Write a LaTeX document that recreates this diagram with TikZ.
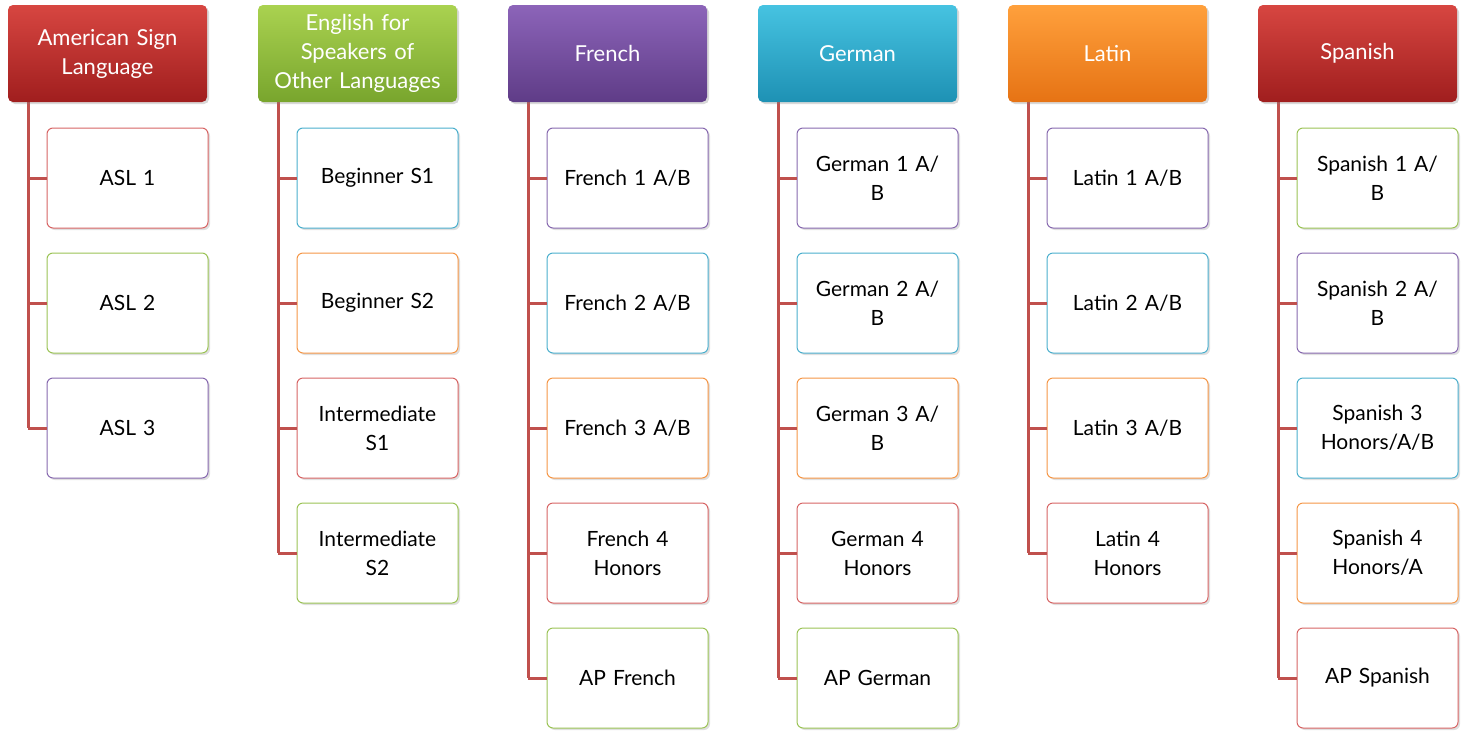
\documentclass[tikz,border=0pt]{standalone}
\usepackage{fontspec}
\setmainfont{Lato}
\usetikzlibrary{shadows}
\newcommand\mkhead[3]{%
 \node[hdr,top color=h#1t,bottom color=h#1b] (h#1) at (#2+99.5,53.5) {#3};
 \coordinate (top#1) at (#2+20,102);}
\newcommand\mkkid[5]{%
 \node[kid=#4] (k#1-#2) at (#3+119.5,53+125*#2) {#5};
 \coordinate (j#1-#2) at (#3+20,53+125*#2);
 \draw[con] (j#1-#2) -- (k#1-#2.west);}
\begin{document}
\begin{tikzpicture}[x=1pt,y=-1pt,
 hdr/.style={rounded corners=5pt,minimum width=199pt,minimum height=97pt,text width=190pt,align=center,text=white,font=\fontsize{22}{29}\selectfont,inner sep=2pt,drop shadow={opacity=0.3,shadow xshift=2pt,shadow yshift=-2pt}},
 kid/.style={draw=#1,line width=1pt,fill=white,rounded corners=6pt,minimum width=161pt,minimum height=100pt,text width=150pt,align=center,font=\fontsize{21}{29}\selectfont,drop shadow={opacity=0.25,shadow xshift=2pt,shadow yshift=-2pt}},
 con/.style={draw=lnk,line width=3pt}]
\definecolor{lnk}{RGB}{192,80,77}
\definecolor{cR}{RGB}{215,100,100}\definecolor{cG}{RGB}{155,195,85}
\definecolor{cP}{RGB}{135,105,175}\definecolor{cB}{RGB}{75,175,205}
\definecolor{cO}{RGB}{245,150,70}
\definecolor{h1t}{RGB}{215,70,65}\definecolor{h1b}{RGB}{160,30,30}
\definecolor{h2t}{RGB}{170,210,80}\definecolor{h2b}{RGB}{120,165,45}
\definecolor{h3t}{RGB}{140,100,185}\definecolor{h3b}{RGB}{95,60,135}
\definecolor{h4t}{RGB}{70,195,225}\definecolor{h4b}{RGB}{30,145,180}
\definecolor{h5t}{RGB}{255,160,60}\definecolor{h5b}{RGB}{230,115,20}
\definecolor{h6t}{RGB}{215,70,65}\definecolor{h6b}{RGB}{160,30,30}
\useasboundingbox (0,0) rectangle (1463,739);
\draw[con] (8+20,102) -- (8+20,53+375);
\draw[con] (258+20,102) -- (258+20,53+500);
\draw[con] (508+20,102) -- (508+20,53+625);
\draw[con] (758+20,102) -- (758+20,53+625);
\draw[con] (1008+20,102) -- (1008+20,53+500);
\draw[con] (1258+20,102) -- (1258+20,53+625);
\mkhead{1}{8}{American Sign\\Language}
\mkkid{1}{1}{8}{cR}{ASL 1}
\mkkid{1}{2}{8}{cG}{ASL 2}
\mkkid{1}{3}{8}{cP}{ASL 3}
\mkhead{2}{258}{English for\\Speakers of\\Other Languages}
\mkkid{2}{1}{258}{cB}{Beginner S1}
\mkkid{2}{2}{258}{cO}{Beginner S2}
\mkkid{2}{3}{258}{cR}{Intermediate\\S1}
\mkkid{2}{4}{258}{cG}{Intermediate\\S2}
\mkhead{3}{508}{French}
\mkkid{3}{1}{508}{cP}{French 1 A/B}
\mkkid{3}{2}{508}{cB}{French 2 A/B}
\mkkid{3}{3}{508}{cO}{French 3 A/B}
\mkkid{3}{4}{508}{cR}{French 4\\Honors}
\mkkid{3}{5}{508}{cG}{AP French}
\mkhead{4}{758}{German}
\mkkid{4}{1}{758}{cP}{German 1 A/\\B}
\mkkid{4}{2}{758}{cB}{German 2 A/\\B}
\mkkid{4}{3}{758}{cO}{German 3 A/\\B}
\mkkid{4}{4}{758}{cR}{German 4\\Honors}
\mkkid{4}{5}{758}{cG}{AP German}
\mkhead{5}{1008}{Latin}
\mkkid{5}{1}{1008}{cP}{Latin 1 A/B}
\mkkid{5}{2}{1008}{cB}{Latin 2 A/B}
\mkkid{5}{3}{1008}{cO}{Latin 3 A/B}
\mkkid{5}{4}{1008}{cR}{Latin 4\\Honors}
\mkhead{6}{1258}{Spanish}
\mkkid{6}{1}{1258}{cG}{Spanish 1 A/\\B}
\mkkid{6}{2}{1258}{cP}{Spanish 2 A/\\B}
\mkkid{6}{3}{1258}{cB}{Spanish 3\\Honors/A/B}
\mkkid{6}{4}{1258}{cO}{Spanish 4\\Honors/A}
\mkkid{6}{5}{1258}{cR}{AP Spanish}
\end{tikzpicture}
\end{document}
